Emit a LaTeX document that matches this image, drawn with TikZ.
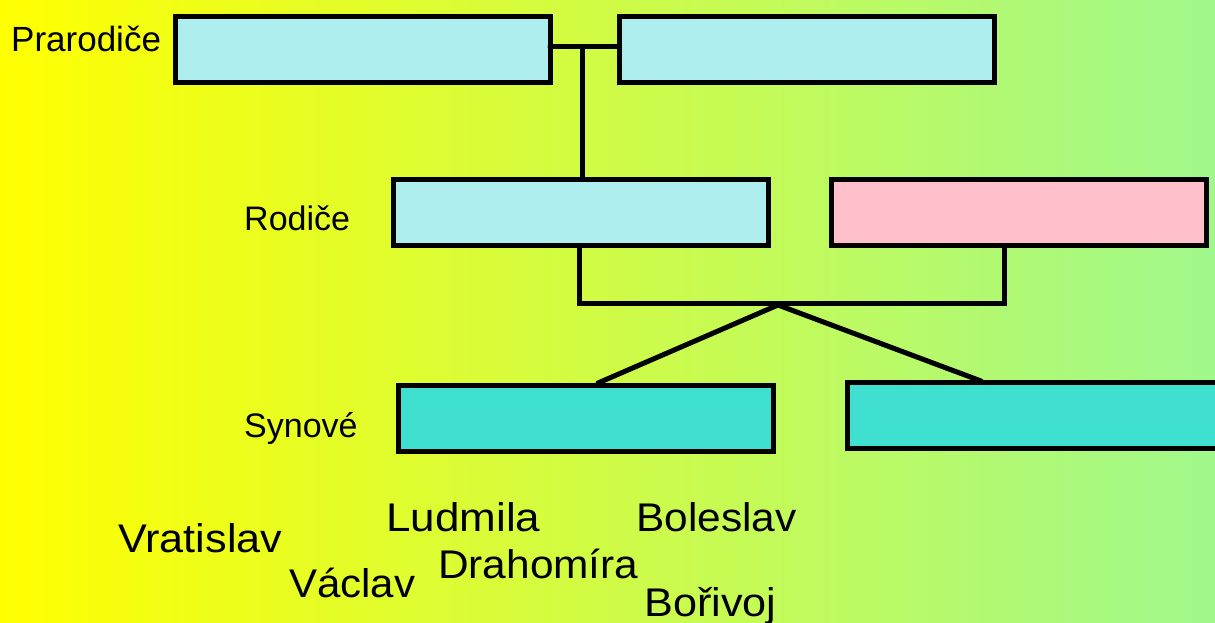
\documentclass[tikz,border=0pt]{standalone}
\usepackage{fontspec}
\usepackage{graphicx}
\setmainfont{Liberation Sans}
\definecolor{pturq}{HTML}{AFEEEE}
\definecolor{ppink}{HTML}{FFC0CB}
\definecolor{turq}{HTML}{40E0D0}
\definecolor{bgleft}{RGB}{255,255,0}
\definecolor{bgright}{RGB}{160,248,140}
\begin{document}
\begin{tikzpicture}[x=1pt,y=-1pt,
  box/.style={draw,line width=5pt,minimum width=375pt,minimum height=66pt,inner sep=0pt,outer sep=0pt},
  conn/.style={line width=5pt,line cap=round},
  lbl/.style={anchor=base west,inner sep=0pt,font=\fontsize{34}{34}\selectfont},
  pname/.style={anchor=base west,inner sep=0pt,font=\fontsize{40}{40}\selectfont}]
\useasboundingbox (0,0) rectangle (1215,623);
\shade[left color=bgleft,right color=bgright] (0,0) rectangle (1215,623);
% boxes
\node[box,fill=pturq] (P1) at (362.5,50) {};
\node[box,fill=pturq] (P2) at (806.5,50) {};
\node[box,fill=pturq] (R1) at (580.5,212.5) {};
\node[box,fill=ppink] (R2) at (1019,212.5) {};
\node[box,fill=turq] (S1) at (586,418) {};
\node[box,fill=turq] (S2) at (1034.5,415.5) {};
% labels
\node[lbl,font=\fontsize{35}{35}\selectfont] (lp) at (11,52) {Prarodiče};
\node[lbl] (lr) at (244,230) {Rodiče};
\node[lbl] (ls) at (244,437) {Synové};
% connectors
\coordinate (pm) at (582,47);
\coordinate (ra) at (579,303);
\coordinate (rb) at (1004,303);
\coordinate (apex) at (778,305);
\coordinate (s1t) at (598,383);
\coordinate (s2t) at (981,381);
\draw[conn] (P1.east |- pm) -- (P2.west |- pm);
\draw[conn] (pm) -- (pm |- R1.north);
\draw[conn] (ra |- R1.south) -- (ra) -- (rb) -- (rb |- R2.south);
\draw[conn] (apex) -- (s1t);
\draw[conn] (apex) -- (s2t);
% names
\node[pname] (n1) at (118,552) {\scalebox{1.08}[1]{Vratislav}};
\node[pname] (n2) at (386,531) {\scalebox{1.1}[1]{Ludmila}};
\node[pname] (n3) at (636,531) {\scalebox{1.06}[1]{Boleslav}};
\node[pname] (n4) at (289,597) {\scalebox{1.05}[1]{Václav}};
\node[pname] (n5) at (438,578) {\scalebox{1.06}[1]{Drahomíra}};
\node[pname] (n6) at (644,616) {\scalebox{1.08}[1]{Bořivoj}};
\end{tikzpicture}
\end{document}
